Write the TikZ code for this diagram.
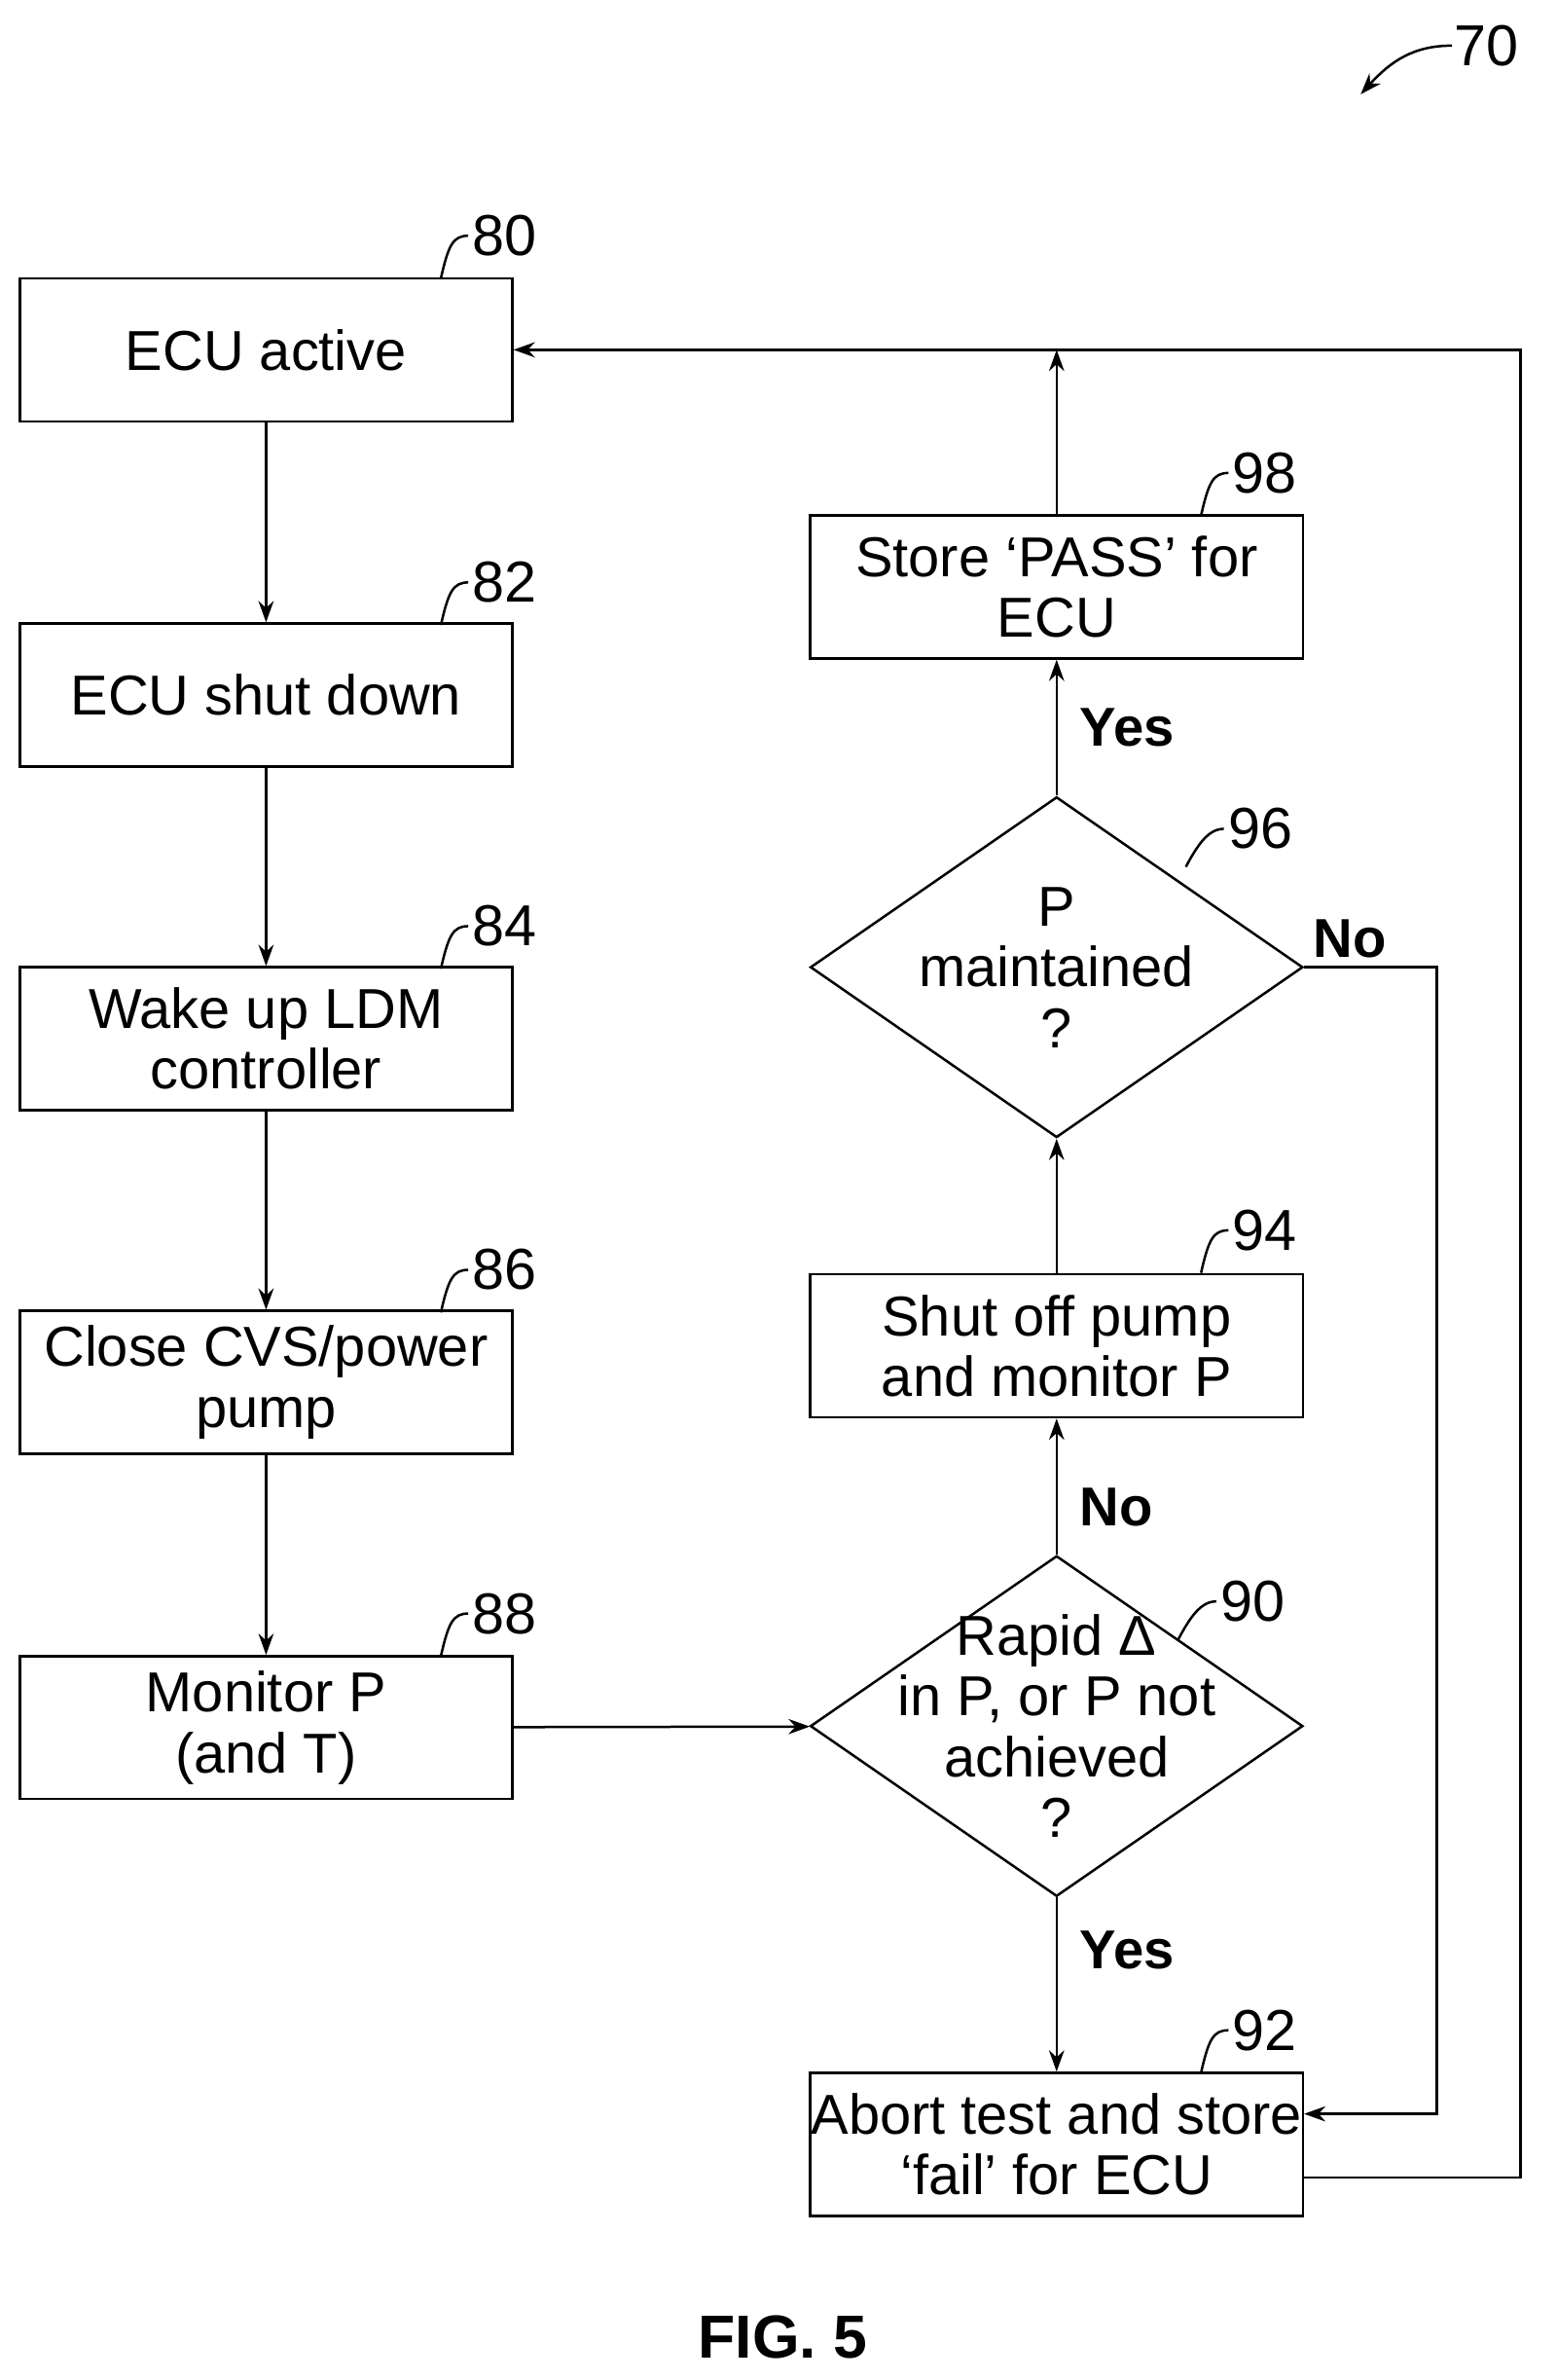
\documentclass[tikz,border=0pt]{standalone}
\usepackage{fontspec}
\setmainfont{Liberation Sans}
\usetikzlibrary{shapes.geometric,arrows.meta}
\begin{document}
\begin{tikzpicture}[x=0.5pt,y=-0.5pt,
  box/.style={draw,line width=0.8pt,minimum width=162pt,minimum height=47pt,inner sep=0pt,align=center,font=\fontsize{18.5}{20}\selectfont},
  dia/.style={draw,line width=0.8pt,diamond,minimum width=162pt,minimum height=112pt,inner sep=0pt},
  txt/.style={align=center,inner sep=0pt,font=\fontsize{18.5}{20}\selectfont},
  flow/.style={draw,line width=0.8pt,-{Stealth[length=7pt,width=5pt]}},
  ans/.style={font=\bfseries\fontsize{18}{18}\selectfont},
  lead/.style={line width=0.8pt},
  num/.style={font=\fontsize{19}{20}\selectfont,inner sep=1pt}]
\useasboundingbox (0,0) rectangle (1024,1565);
% left column
\node[box] (n80) at (175,230) {ECU active};
\node[box] (n82) at (175,457) {ECU shut down};
\node[box] (n84) at (175,683) {Wake up LDM\\controller};
\node[box] (n86) at (175,909) {Close CVS/power\\pump};
\node[box] (n88) at (175,1136) {Monitor P\\(and T)};
% right column
\node[box] (n98) at (695,386) {Store `PASS' for\\ECU};
\node[dia] (n96) at (695,636) {};
\node[txt] (t96) at (n96) {P\\maintained\\?};
\node[box] (n94) at (695,885) {Shut off pump\\and monitor P};
\node[dia] (n90) at (695,1135) {};
\node[txt] (t90) at (n90) {Rapid Δ\\in P, or P not\\achieved\\?};
\node[box] (n92) at (695,1410) {Abort test and store\\`fail' for ECU};
\coordinate (top) at (695,230);
\coordinate (fbr) at (1000,1432);
\coordinate (nor) at (945,636);
% connectors
\draw[flow] (n80) -- (n82);
\draw[flow] (n82) -- (n84);
\draw[flow] (n84) -- (n86);
\draw[flow] (n86) -- (n88);
\draw[flow] (n88) -- (n90);
\draw[flow] (n90) -- node[ans,pos=0.3,right=4pt]{Yes} (n92);
\draw[flow] (n90) -- node[ans,pos=0.35,right=4pt]{No} (n94);
\draw[flow] (n94) -- (n96);
\draw[flow] (n96) -- node[ans,pos=0.5,right=4pt]{Yes} (n98);
\draw[flow] (n98) -- (top);
\draw[flow] (n96.east) -- (nor) |- (n92.east |- 0,1390);
\draw[flow] (n92.east |- fbr) -- (fbr) |- (n80.east);
\node[ans] (no96) at (888,617) {No};
% reference numerals
\foreach \n/\x/\y in {80/290/183,82/290/411,84/290/637,86/290/863,88/290/1089,98/790/339,94/790/837,92/790/1363}
  \draw[lead] (\x,\y) .. controls +(5,-22) and +(-10,0) .. +(18,-28) node[num,right] {\n};
\draw[lead] (780,570) .. controls +(8,-15) and +(-10,0) .. +(25,-25) node[num,right] {96};
\draw[lead] (775,1078) .. controls +(8,-15) and +(-10,0) .. +(25,-25) node[num,right] {90};
\draw[lead,-{Stealth[length=7pt,width=5pt]}] (955,30) .. controls (930,30) and (915,40) .. (895,62);
\node[num] (n70) at (978,30) {70};
\node[font=\bfseries\fontsize{20}{20}\selectfont] (fig) at (515,1537) {FIG. 5};
\end{tikzpicture}
\end{document}
